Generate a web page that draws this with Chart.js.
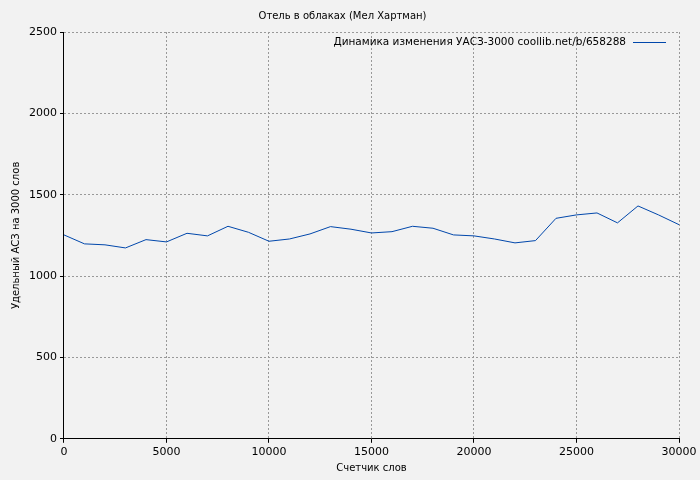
<!DOCTYPE html>
<html><head><meta charset="utf-8">
<script src="https://cdn.jsdelivr.net/npm/chart.js@4"></script>
<style>html,body{margin:0;background:#f2f2f2}#w{width:700px;height:480px}</style>
</head><body><div id="w"><canvas id="c"></canvas></div>
<script>
const words = [0,1000,2000,3000,4000,5000,6000,7000,8000,9000,10000,11000,12000,13000,14000,15000,16000,17000,18000,19000,20000,21000,22000,23000,24000,25000,26000,27000,28000,29000,30000];
const uasz = [1253,1198,1192,1173,1224,1210,1263,1247,1306,1269,1214,1228,1259,1304,1288,1265,1273,1306,1294,1253,1247,1228,1204,1218,1355,1376,1388,1327,1431,1376,1316];
const titleText = 'Отель в облаках (Мел Хартман)';
const seriesLabel = 'Динамика изменения УАСЗ-3000 coollib.net/b/658288';
const xTitle = 'Счетчик слов';
const yTitle = 'Удельный АСЗ на 3000 слов';
const font = {family:'DejaVu Sans', size:11};
const legendPlugin = {id:'lg', afterDraw(ch){
  const c=ch.ctx, a=ch.chartArea; c.save(); c.font='10.5px "DejaVu Sans"'; c.fillStyle='#000';
  c.textAlign='right'; c.textBaseline='middle';
  const y=a.top+10; c.fillText(seriesLabel, a.right-53, y);
  c.strokeStyle='#0047ab'; c.lineWidth=1; c.beginPath(); c.moveTo(a.right-46,y+0.5); c.lineTo(a.right-13,y+0.5); c.stroke(); c.restore();
}};
const bg={id:'bg',beforeDraw(ch){const c=ch.ctx;c.save();c.fillStyle='#f2f2f2';c.fillRect(0,0,ch.width,ch.height);c.restore();}};
const fmt=v=>String(v);
new Chart(document.getElementById('c'),{type:'line',
 data:{labels:words,datasets:[{label:seriesLabel,data:words.map((x,i)=>({x,y:uasz[i]})),borderColor:'#0047ab',borderWidth:1,pointRadius:0,tension:0}]},
 options:{responsive:true,maintainAspectRatio:false,animation:false,
  layout:{padding:{left:6,right:21,top:0,bottom:2}},
  plugins:{legend:{display:false},tooltip:{enabled:false},
   title:{display:true,text:titleText,color:'#000',font:{family:'DejaVu Sans',size:10,weight:'normal'},padding:{top:10,bottom:10}}},
  scales:{
   x:{type:'linear',min:0,max:30000,ticks:{stepSize:5000,color:'#000',font,callback:fmt},border:{color:'#000',width:1,dash:[2,2]},
      grid:{color:'#999',tickColor:'#000',tickLength:4},
      title:{display:true,text:xTitle,color:'#000',font:{family:'DejaVu Sans',size:10},padding:{top:0}}},
   y:{min:0,max:2500,ticks:{stepSize:500,color:'#000',font,callback:fmt},border:{color:'#000',width:1,dash:[2,2]},
      grid:{color:'#999',tickColor:'#000',tickLength:4},
      title:{display:true,text:yTitle,color:'#000',font:{family:'DejaVu Sans',size:10},padding:{bottom:4}}}
  }},plugins:[bg,legendPlugin]});
</script></body></html>
